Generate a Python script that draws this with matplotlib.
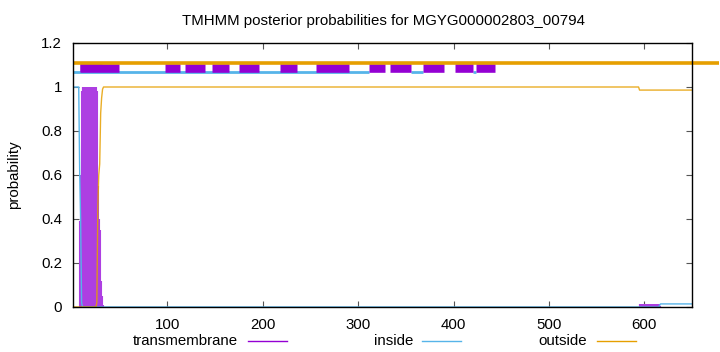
import numpy as np
import matplotlib
matplotlib.use("Agg")
import matplotlib.pyplot as plt
from matplotlib.lines import Line2D

plt.rcParams['font.family'] = ['Liberation Sans', 'DejaVu Sans']
plt.rcParams['font.size'] = 10.8

title = "TMHMM posterior probabilities for MGYG000002803_00794"
seq_len = 650

# posterior probabilities per residue, stored as runs (value, run length)
inside_vals = [1.0, 0.61, 0.40, 0.02, 0.0, 0.007, 0.014]
inside_runs = [7, 1, 1, 1, 605, 1, 34]
outside_vals = [0.0, 0.02, 0.45, 0.60, 0.65, 0.88, 0.95, 0.99, 1.0, 0.986]
outside_runs = [25, 1, 1, 1, 1, 1, 1, 1, 562, 56]
tm_vals = [0.0, 0.39, 0.60, 0.98, 1.0, 0.98, 0.55, 0.40, 0.35, 0.12, 0.05, 0.01, 0.0, 0.012, 0.006, 0.0]
tm_runs = [7, 1, 1, 1, 15, 1, 1, 1, 1, 1, 1, 1, 562, 21, 1, 34]

# predicted topology drawn above the curves (start, end residue)
top_tm = [(8, 49), (97, 113), (118, 139), (147, 165), (175, 196), (218, 236),
          (256, 290), (311, 328), (333, 355), (368, 390), (402, 420), (424, 443)]
top_tm_raised = [(8, 31)]
top_inside = [(1, 311), (355, 368), (420, 424)]
top_outside = [(1, 678)]

c_tm = '#9400d3'
c_tm_imp = '#ad3fe2'
c_in = '#56b4e9'
c_out = '#e69f00'

pos = np.arange(1, seq_len + 1)
inside = np.repeat(inside_vals, inside_runs)
outside = np.repeat(outside_vals, outside_runs)
tm = np.repeat(tm_vals, tm_runs)

fig = plt.figure(figsize=(7.2, 3.52), dpi=100)
ax = fig.add_axes([73/720, 45/352, 619/720, 264/352])

ax.vlines(pos, 0, tm, color=c_tm_imp, lw=1.5)
ax.plot(pos, inside, color=c_in, lw=1.0)
ax.plot(pos, outside, color=c_out, lw=1.0, alpha=0.85)

for a, b in top_inside:
    ax.plot([a, b], [1.068, 1.068], color=c_in, lw=2.0, solid_capstyle='butt')
for a, b in top_tm:
    ax.plot([a, b], [1.086, 1.086], color=c_tm, lw=6.2, solid_capstyle='butt')
for a, b in top_tm_raised:
    ax.plot([a, b], [1.089, 1.089], color=c_tm, lw=6.2, solid_capstyle='butt')
for a, b in top_outside:
    ax.plot([a, b], [1.107, 1.107], color=c_out, lw=2.6, solid_capstyle='butt', clip_on=False)

ax.set_xlim(1, seq_len)
ax.set_ylim(0, 1.2)
ax.set_xticks([100, 200, 300, 400, 500, 600])
ax.set_yticks([0, 0.2, 0.4, 0.6, 0.8, 1.0, 1.2])
ax.set_yticklabels(['0', '0.2', '0.4', '0.6', '0.8', '1', '1.2'])
ax.tick_params(direction='in', top=True, right=True, length=4, width=0.8,
               color='#555555', pad=8)
for s in ax.spines.values():
    s.set_linewidth(1.0)
ax.set_ylabel('probability', labelpad=14)
fig.text(383/720, 1 - 21/352, title, ha='center', va='center')

# legend below the axes, gnuplot style
legend = [('transmembrane', c_tm, 238, 248), ('inside', c_in, 413, 422), ('outside', c_out, 587, 597)]
ly = 1 - 341/352
for label, col, tx, lx in legend:
    fig.text(tx/720, ly, label, ha='right', va='center')
    fig.add_artist(Line2D([lx/720, (lx + 39)/720], [ly, ly], color=col, lw=1.0,
                          transform=fig.transFigure))

fig.savefig('out.png', dpi=100)
